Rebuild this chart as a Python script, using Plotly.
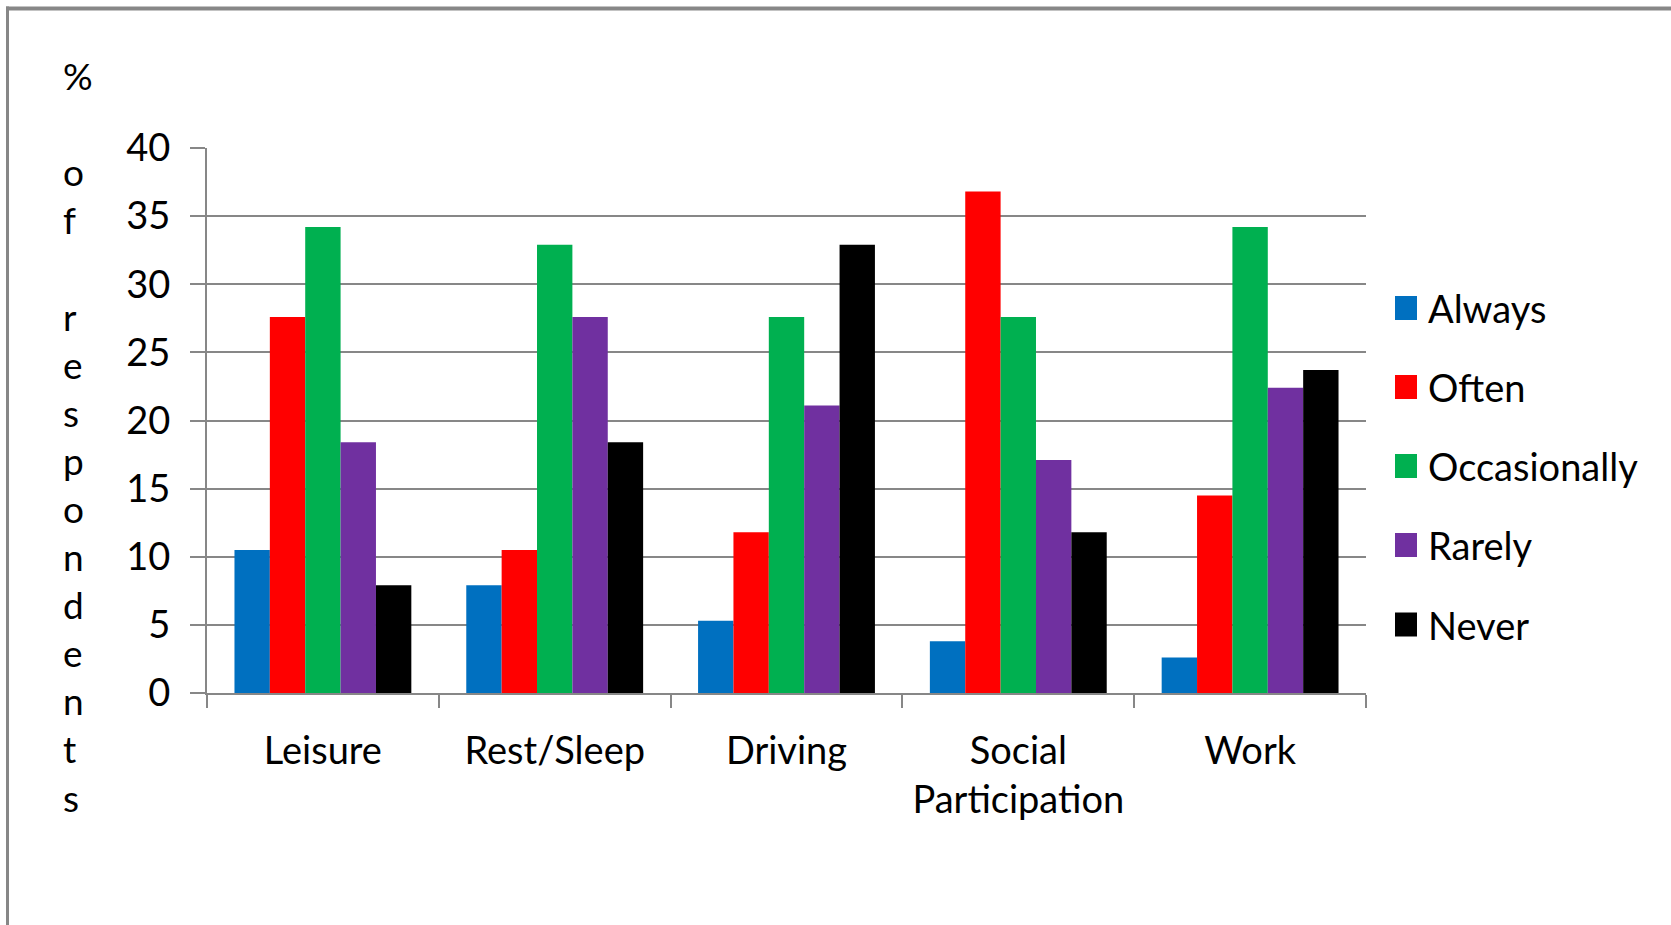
import plotly.graph_objects as go

# Survey categories and response shares (% of respondents)
categories = ["Leisure", "Rest/Sleep", "Driving", "Social<br>Participation", "Work"]
series_names = ["Always", "Often", "Occasionally", "Rarely", "Never"]
always = [10.5, 7.9, 5.3, 3.8, 2.6]
often = [27.6, 10.5, 11.8, 36.8, 14.5]
occasionally = [34.2, 32.9, 27.6, 27.6, 34.2]
rarely = [18.4, 27.6, 21.1, 17.1, 22.4]
never = [7.9, 18.4, 32.9, 11.8, 23.7]
y_ticks = [0, 5, 10, 15, 20, 25, 30, 35, 40]
y_title_chars = ["%", " ", "o", "f", " ", "r", "e", "s", "p", "o",
                 "n", "d", "e", "n", "t", "s"]

series_values = [always, often, occasionally, rarely, never]
colors = ["#0070C0", "#FF0000", "#00B050", "#7030A0", "#000000"]

W, H = 1671, 925
PL, PR, PT, PB = 207, 1366, 148, 693
GRID = "#878787"
FONT = "Lato"
FS = 38


def px_x(px):
    return (px - PL) / (PR - PL)


def px_y(py):
    return (PB - py) / (PB - PT)


fig = go.Figure()
for name, vals, col in zip(series_names, series_values, colors):
    fig.add_trace(go.Bar(x=categories, y=vals, name=name,
                         marker=dict(color=col, line=dict(width=0)),
                         showlegend=False))

shapes = []
annotations = []

# legend: colour square + label per series
legend_y = [308, 387, 466, 545, 624.5]
for name, col, ly in zip(series_names, colors, legend_y):
    shapes.append(dict(type="rect", xref="paper", yref="paper",
                       x0=px_x(1395), x1=px_x(1417),
                       y0=px_y(ly + 12), y1=px_y(ly - 12),
                       fillcolor=col, line=dict(width=0)))
    annotations.append(dict(text=name, xref="paper", yref="paper",
                            x=px_x(1426), y=px_y(ly), xanchor="left",
                            yanchor="middle", showarrow=False,
                            font=dict(family=FONT, size=FS, color="#000000")))

# stacked vertical axis title
annotations.append(dict(text="<br>".join(y_title_chars), xref="paper", yref="paper",
                        x=px_x(61), y=px_y(436), xanchor="left",
                        yanchor="middle", align="left", showarrow=False,
                        font=dict(family=FONT, size=37, color="#000000")))

# chart-area frame (top and left edges)
shapes.append(dict(type="line", xref="paper", yref="paper",
                   x0=px_x(6), x1=px_x(1700), y0=px_y(8.5), y1=px_y(8.5),
                   line=dict(color=GRID, width=4)))
shapes.append(dict(type="line", xref="paper", yref="paper",
                   x0=px_x(7.5), x1=px_x(7.5), y0=px_y(6.5), y1=px_y(960),
                   line=dict(color=GRID, width=3)))

fig.update_layout(
    width=W, height=H,
    margin=dict(l=PL, r=W - PR, t=PT, b=H - PB, pad=0),
    paper_bgcolor="#FFFFFF", plot_bgcolor="#FFFFFF",
    barmode="group", bargap=0.237, bargroupgap=0,
    font=dict(family=FONT, size=FS, color="#000000"),
    shapes=shapes, annotations=annotations,
)
fig.update_yaxes(range=[0, 40], tickvals=y_ticks, showgrid=True,
                 gridcolor=GRID, gridwidth=2, ticks="outside", ticklen=15,
                 tickwidth=2, tickcolor=GRID, showline=True, linecolor=GRID,
                 linewidth=2, zeroline=False, ticklabelstandoff=12,
                 tickfont=dict(family=FONT, size=FS, color="#000000"))
fig.update_xaxes(showline=True, linecolor=GRID, linewidth=2, ticks="outside",
                 tickson="boundaries", ticklen=13, tickwidth=2, tickcolor=GRID,
                 showgrid=False, ticklabelstandoff=23,
                 tickfont=dict(family=FONT, size=FS, color="#000000"))

fig.write_html("out.html")
